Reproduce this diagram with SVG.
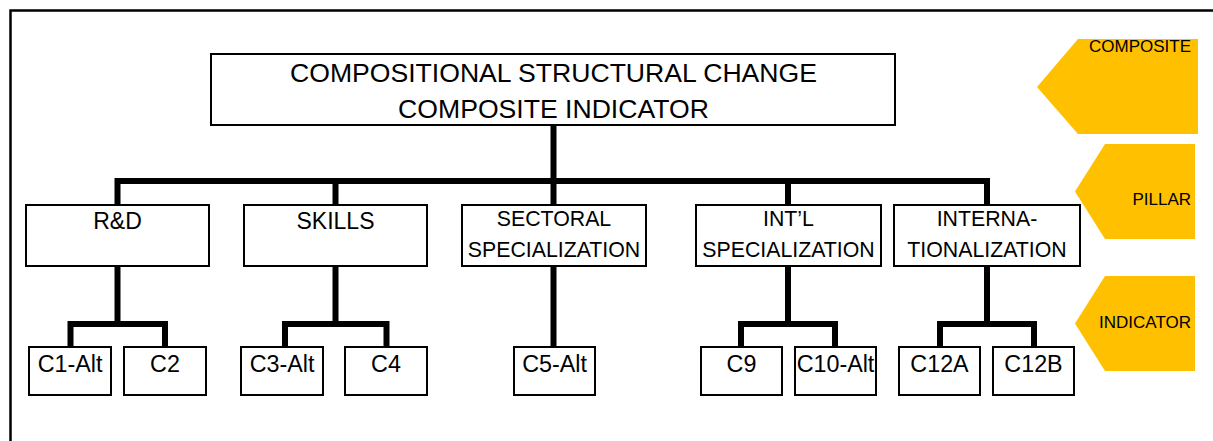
<svg xmlns="http://www.w3.org/2000/svg" width="1213" height="441" viewBox="0 0 1213 441">
<style>
.box{fill:#fff;stroke:#000;stroke-width:2}
.t{font-family:"Liberation Sans",Arial,sans-serif;fill:#000;text-anchor:middle}
.main{font-size:26.6px}
.p{font-size:21.3px}
.p1{font-size:23px}
.l{font-size:23.3px}
.side{font-family:"Liberation Sans",Arial,sans-serif;font-size:17px;fill:#000;text-anchor:end}
.tag{fill:#FFC000}
.c{fill:none;stroke:#000;stroke-width:6;stroke-linejoin:miter;stroke-linecap:butt}
</style>
<rect width="1213" height="441" fill="#fff"/>
<path d="M10.5,441 V10.5 H1213" fill="none" stroke="#000" stroke-width="2.5"/>

<g id="tags">
<g id="tag-composite"><polygon class="tag" points="1078,39 1198,39 1198,134 1078,134 1037,87"/><text class="side" x="1191" y="52">COMPOSITE</text></g>
<g id="tag-pillar"><polygon class="tag" points="1105,144 1195,144 1195,239 1105,239 1075,191.5"/><text class="side" x="1191" y="205">PILLAR</text></g>
<g id="tag-indicator"><polygon class="tag" points="1105,276 1195,276 1195,371 1105,371 1075,323.5"/><text class="side" x="1191" y="328">INDICATOR</text></g>
</g>

<g id="connectors">
<path class="c" d="M553.5,125 V181"/>
<path class="c" d="M117.5,205 V181 H987 V205"/>
<path class="c" d="M335.5,181 V205"/>
<path class="c" d="M553.5,181 V205"/>
<path class="c" d="M788,181 V205"/>
<path class="c" d="M117.5,266 V324"/>
<path class="c" d="M70.5,347 V324 H165 V347"/>
<path class="c" d="M335.5,266 V324"/>
<path class="c" d="M285,347 V324 H386.5 V347"/>
<path class="c" d="M553.5,266 V347"/>
<path class="c" d="M788,266 V324"/>
<path class="c" d="M741,347 V324 H835 V347"/>
<path class="c" d="M987,266 V324"/>
<path class="c" d="M940,347 V324 H1034 V347"/>
</g>

<g id="root"><rect class="box" x="211" y="54" width="684" height="71"/>
<text class="t main" x="553.5" y="82">COMPOSITIONAL STRUCTURAL CHANGE</text>
<text class="t main" x="553.5" y="118">COMPOSITE INDICATOR</text></g>

<g id="p-rd"><rect class="box" x="26" y="205" width="183" height="61"/><text class="t p1" x="117.5" y="229">R&amp;D</text></g>
<g id="p-skills"><rect class="box" x="244" y="205" width="183" height="61"/><text class="t p1" x="335.5" y="229">SKILLS</text></g>
<g id="p-sectoral"><rect class="box" x="462" y="205" width="184" height="61"/><text class="t p" x="554" y="226">SECTORAL</text><text class="t p" x="554" y="257">SPECIALIZATION</text></g>
<g id="p-intl"><rect class="box" x="696" y="205" width="185" height="61"/><text class="t p" x="788.5" y="226">INT’L</text><text class="t p" x="788.5" y="257">SPECIALIZATION</text></g>
<g id="p-interna"><rect class="box" x="894" y="205" width="186" height="61"/><text class="t p" x="987" y="226">INTERNA-</text><text class="t p" x="987" y="257">TIONALIZATION</text></g>

<g id="c1"><rect class="box" x="29" y="347" width="82" height="48"/><text class="t l" x="70" y="372">C1-Alt</text></g>
<g id="c2"><rect class="box" x="124" y="347" width="82" height="48"/><text class="t l" x="165" y="372">C2</text></g>
<g id="c3"><rect class="box" x="241" y="347" width="82" height="48"/><text class="t l" x="282" y="372">C3-Alt</text></g>
<g id="c4"><rect class="box" x="345" y="347" width="82" height="48"/><text class="t l" x="386" y="372">C4</text></g>
<g id="c5"><rect class="box" x="514" y="347" width="81" height="48"/><text class="t l" x="554.5" y="372">C5-Alt</text></g>
<g id="c9"><rect class="box" x="701" y="347" width="81" height="48"/><text class="t l" x="741.5" y="372">C9</text></g>
<g id="c10"><rect class="box" x="795" y="347" width="81" height="48"/><text class="t l" x="835.5" y="372">C10-Alt</text></g>
<g id="c12a"><rect class="box" x="899" y="347" width="81" height="48"/><text class="t l" x="939.5" y="372">C12A</text></g>
<g id="c12b"><rect class="box" x="993" y="347" width="81" height="48"/><text class="t l" x="1033.5" y="372">C12B</text></g>
</svg>
